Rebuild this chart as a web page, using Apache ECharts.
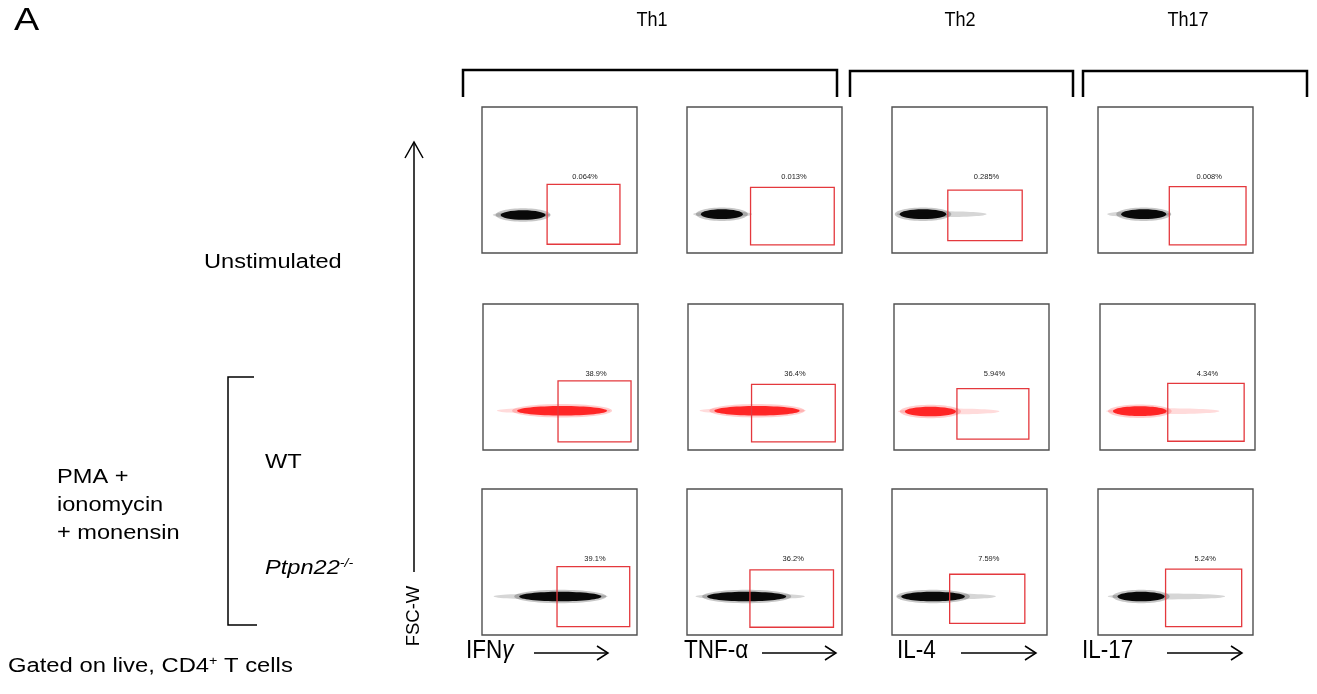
<!DOCTYPE html>
<html><head><meta charset="utf-8">
<script src="https://cdn.jsdelivr.net/npm/echarts@6/dist/echarts.min.js"></script>
<style>html,body{margin:0;padding:0;background:#fff}#c{width:1317px;height:694px}</style>
</head><body><div id="c"></div>
<script>
// ---------- data ----------
const panelLabel = 'A';
const groups = ['Th1', 'Th2', 'Th17'];
const markers = ['IFN', 'TNF-α', 'IL-4', 'IL-17'];
const conditions = ['Unstimulated', 'WT', 'Ptpn22'];
const stimulus = ['PMA +', 'ionomycin', '+ monensin'];
const yAxisLabel = 'FSC-W';
const gatingNote = ['Gated on live, CD4', '+', ' T cells'];
const gatePercent = [
  ['0.064%', '0.013%', '0.285%', '0.008%'],
  ['38.9%', '36.4%', '5.94%', '4.34%'],
  ['39.1%', '36.2%', '7.59%', '5.24%']
];
// gate boxes: [xMin, xMax, yMin, yMax] on a 0-100 scale
const gateUnstim = [[42, 89, 6, 47], [41, 95, 5.5, 45], [36, 84, 8.5, 43], [46, 95.5, 5.5, 45.5]];
const gateWT     = [[48.4, 95.5, 5.5, 47.4], [41, 95, 5.5, 45], [40.6, 87, 7.4, 42], [43.7, 93, 6, 45.6]];
const gateKO     = [[48.4, 95.3, 5.7, 46.9], [40.6, 94.5, 5.3, 44.6], [37.2, 85.7, 8, 41.6], [43.6, 92.7, 5.7, 45.1]];
// event clouds: [xStart, coreStart, coreEnd, xEnd, yCenter]
const cloudUnstim = [[7, 12, 41, 44, 26], [4, 9, 36, 42, 26.6], [3, 5, 35, 61, 26.6], [6, 15, 44, 47, 26.6]];
const cloudWT     = [[9, 22, 80, 82, 26.9], [7.5, 17, 72, 76, 26.9], [2.6, 7, 40, 68, 26.4], [4, 8.4, 43, 77, 26.6]];
const cloudKO     = [[7.5, 24, 77, 81, 26.4], [5.5, 13, 64, 76, 26.4], [3.3, 6, 47, 67, 26.4], [6.3, 12.6, 43, 82, 26.4]];

// ---------- layout ----------
const gates = [gateUnstim, gateWT, gateKO];
const clouds = [cloudUnstim, cloudWT, cloudKO];
const rowTops = [107, 304, 489];
const rowLefts = [[482, 687, 892, 1098], [483, 688, 894, 1100], [482, 687, 892, 1098]];
const PW = 155, PH = 146;
const rowColors = ['#000000', '#ff1e1e', '#000000'];
const SANS = "'Liberation Sans', Arial, sans-serif";

const grid = [], xAxis = [], yAxis = [], series = [];
let k = 0;
for (let r = 0; r < 3; r++) {
  for (let c = 0; c < 4; c++) {
    grid.push({ left: rowLefts[r][c], top: rowTops[r], width: PW, height: PH, show: true,
      borderColor: '#505050', borderWidth: 1.4, backgroundColor: '#fff' });
    xAxis.push({ gridIndex: k, type: 'value', min: 0, max: 100, show: false });
    yAxis.push({ gridIndex: k, type: 'value', min: 0, max: 100, show: false });
    const color = rowColors[r];
    series.push({
      type: 'custom', xAxisIndex: k, yAxisIndex: k, silent: true,
      data: [clouds[r][c]],
      renderItem: function (params, api) {
        const xs = api.value(0), cs = api.value(1), ce = api.value(2), xe = api.value(3), yc = api.value(4);
        const pS = api.coord([xs, yc]), pCS = api.coord([cs, yc]), pCE = api.coord([ce, yc]), pE = api.coord([xe, yc]);
        const u = api.size([0, 1])[1];
        const cx = (pCS[0] + pCE[0]) / 2, rx = (pCE[0] - pCS[0]) / 2;
        return { type: 'group', children: [
          { type: 'ellipse', shape: { cx: (pS[0] + pE[0]) / 2, cy: pS[1], rx: (pE[0] - pS[0]) / 2, ry: 2 * u },
            style: { fill: color, opacity: 0.16 } },
          { type: 'ellipse', shape: { cx: cx, cy: pS[1], rx: rx + 5, ry: 4.6 * u },
            style: { fill: color, opacity: 0.22 } },
          { type: 'ellipse', shape: { cx: cx, cy: pS[1], rx: rx, ry: 3.3 * u },
            style: { fill: color, opacity: 0.95 } }
        ] };
      }
    });
    const label = gatePercent[r][c];
    series.push({
      type: 'custom', xAxisIndex: k, yAxisIndex: k, silent: true,
      data: [gates[r][c]],
      renderItem: function (params, api) {
        const x0 = api.value(0), x1 = api.value(1), y0 = api.value(2), y1 = api.value(3);
        const a = api.coord([x0, y1]), b = api.coord([x1, y0]);
        const l = api.coord([(x0 + x1) / 2 + 1, 52]);
        return { type: 'group', children: [
          { type: 'rect', shape: { x: a[0], y: a[1], width: b[0] - a[0], height: b[1] - a[1] },
            style: { fill: 'none', stroke: '#e4383d', lineWidth: 1.3 } },
          { type: 'text', style: { text: label, x: l[0], y: l[1], fill: '#222', fontSize: 7.5,
            fontFamily: SANS, align: 'center', verticalAlign: 'middle' } }
        ] };
      }
    });
    k++;
  }
}

// ---------- annotations ----------
function txt(x, y, text, size, opts) {
  return Object.assign({ type: 'text', x: x, y: y, silent: true,
    style: Object.assign({ text: text, fontSize: size, fontFamily: SANS, fill: '#000',
      verticalAlign: 'middle', align: 'left' }, (opts && opts.style) || {}) }, (opts && opts.el) || {});
}
function line(points, w) {
  return { type: 'polyline', silent: true, shape: { points: points }, style: { stroke: '#000', lineWidth: w || 1.5, fill: 'none' } };
}
function arrow(x1, x2, y) {
  return [line([[x1, y], [x2, y]], 1.5), line([[x2 - 11, y - 7], [x2, y], [x2 - 11, y + 7]], 1.5)];
}
const WIDE = { scaleX: 1.18, scaleY: 1 };

const g = [];
g.push(txt(14, 21, panelLabel, 31, { el: { scaleX: 1.22, scaleY: 1 } }));
// header groups
const groupCenters = [652, 960, 1188];
groups.forEach((t, i) => g.push(txt(groupCenters[i], 20, t, 21, { style: { align: 'center' }, el: { scaleX: 0.86, scaleY: 1 } })));
g.push(line([[463, 97], [463, 70], [837, 70], [837, 97]], 2.5));
g.push(line([[850, 97], [850, 71], [1073, 71], [1073, 97]], 2.5));
g.push(line([[1083, 97], [1083, 71], [1307, 71], [1307, 97]], 2.5));
// y axis arrow
g.push(line([[414, 143], [414, 572]], 1.5));
g.push(line([[405, 158], [414, 142], [423, 158]], 1.5));
g.push(txt(414, 616, yAxisLabel, 18.5, { style: { align: 'center' }, el: { rotation: Math.PI / 2 } }));
// bottom markers
const markerX = [466, 684, 897, 1082];
const arrowX = [[534, 608], [762, 836], [961, 1036], [1167, 1242]];
markers.forEach((m, i) => {
  const t = i === 0 ? '{n|' + m + '}{g|γ}' : '{n|' + m + '}';
  g.push({ type: 'text', x: markerX[i], y: 651, silent: true, scaleX: 0.9, scaleY: 1,
    style: { text: t, verticalAlign: 'middle', rich: {
      n: { fontSize: 25, fontFamily: SANS, fill: '#000' },
      g: { fontSize: 25, fontFamily: SANS, fontStyle: 'italic', fill: '#000' } } } });
  arrow(arrowX[i][0], arrowX[i][1], 653).forEach(e => g.push(e));
});
// left labels
g.push(txt(204, 262, conditions[0], 20, { el: WIDE }));
g.push(txt(265, 462, conditions[1], 20, { el: WIDE }));
stimulus.forEach((s, i) => g.push(txt(57, 477 + i * 28, s, 20, { el: WIDE })));
g.push({ type: 'text', x: 265, y: 568, silent: true, scaleX: 1.18, scaleY: 1,
  style: { text: '{i|' + conditions[2] + '}{s|-/-}', verticalAlign: 'middle', rich: {
    i: { fontSize: 20, fontFamily: SANS, fontStyle: 'italic', fill: '#000' },
    s: { fontSize: 12, fontFamily: SANS, fontStyle: 'italic', fill: '#000', verticalAlign: 'top' } } } });
g.push(line([[254, 377], [228, 377], [228, 625], [257, 625]], 1.5));
g.push({ type: 'text', x: 8, y: 666, silent: true, scaleX: 1.19, scaleY: 1,
  style: { text: '{n|' + gatingNote[0] + '}{s|' + gatingNote[1] + '}{n|' + gatingNote[2] + '}', verticalAlign: 'middle', rich: {
    n: { fontSize: 20, fontFamily: SANS, fill: '#000' },
    s: { fontSize: 12, fontFamily: SANS, fill: '#000', verticalAlign: 'top' } } } });

const chart = echarts.init(document.getElementById('c'), null, { renderer: 'canvas' });
chart.setOption({ animation: false, backgroundColor: '#fff', grid, xAxis, yAxis, series, graphic: { elements: g } });
</script>
</body></html>
